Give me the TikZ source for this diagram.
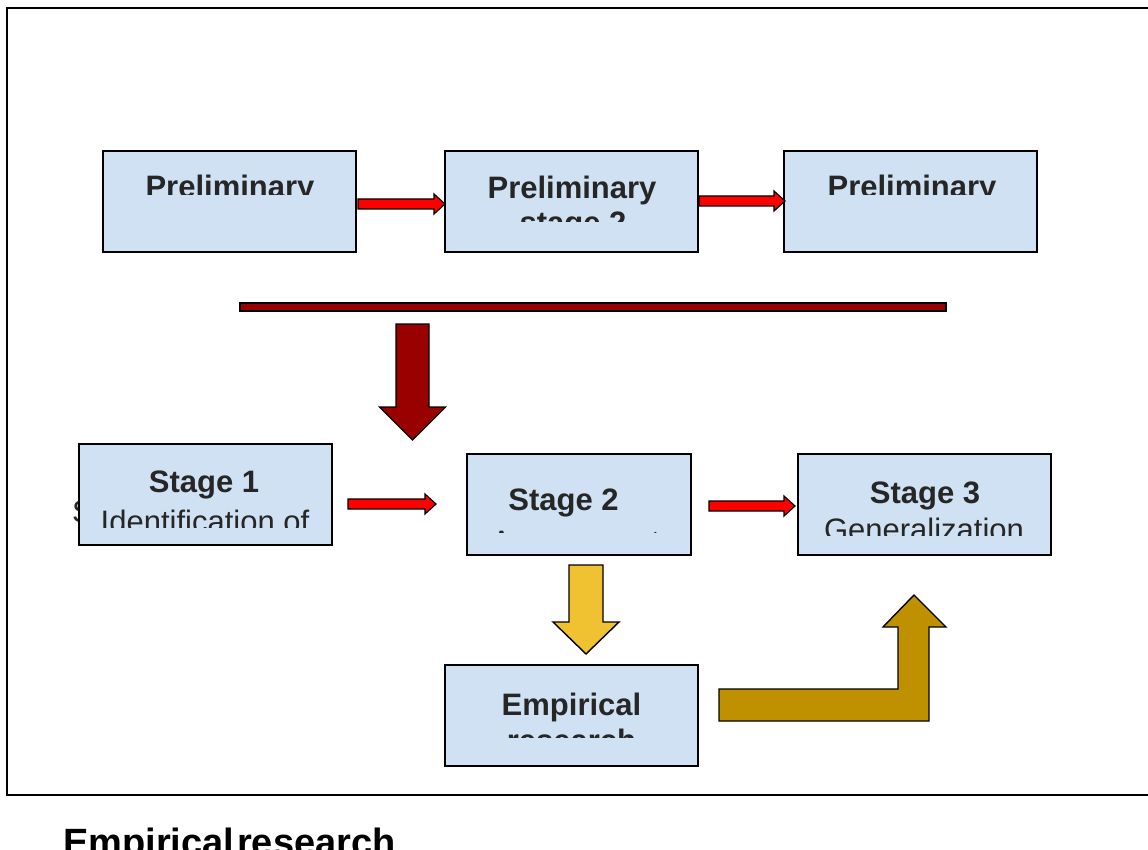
\documentclass[tikz,border=0pt]{standalone}
\usepackage{fontspec}
\setmainfont{Liberation Sans}
\definecolor{boxblue}{RGB}{207,225,242}
\definecolor{txt}{RGB}{38,38,38}
\definecolor{darkred}{RGB}{153,0,0}
\definecolor{ayellow}{RGB}{240,194,50}
\definecolor{agold}{RGB}{191,144,0}
\newcommand\blockarrowR[7]{% style, x1, x2, yc, shaft half, head half, head length
  \draw[#1] (#2,{#4-#5}) -- ({#3-#7},{#4-#5}) -- ({#3-#7},{#4-#6}) -- (#3,#4)
    -- ({#3-#7},{#4+#6}) -- ({#3-#7},{#4+#5}) -- (#2,{#4+#5}) -- cycle;}
\newcommand\blockarrowD[7]{% style, xc, y1, y2, shaft half, head half, head length
  \draw[#1] ({#2-#5},#3) -- ({#2+#5},#3) -- ({#2+#5},{#4-#7}) -- ({#2+#6},{#4-#7})
    -- (#2,#4) -- ({#2-#6},{#4-#7}) -- ({#2-#5},{#4-#7}) -- cycle;}
\begin{document}
\begin{tikzpicture}[x=1pt,y=-1pt,
  box/.style={draw=black, line width=1.4pt, fill=boxblue, inner sep=0pt,
    minimum width=253pt, minimum height=101pt},
  bt/.style={font=\fontsize{31}{35}\selectfont\bfseries, text=txt, anchor=base, inner sep=0pt},
  rt/.style={font=\fontsize{31}{35}\selectfont, text=txt, anchor=base, inner sep=0pt},
  redarrow/.style={fill=red, draw=black, line width=1.2pt, line join=miter},
  bigarrow/.style={draw=black, line width=1.4pt, line join=miter}]
\useasboundingbox (0,0) rectangle (1148,850);
\clip (0,0) rectangle (1148,850);
\fill[white] (0,0) rectangle (1148,850);
% frame
\draw[line width=1.4pt] (7,8) rectangle (1160,795);

% stray letter behind stage 1 box
\node[rt, anchor=base west] (stray) at (72,522) {S};

% boxes
\node[box] (p1) at (229.5,201.5) {};
\node[box] (p2) at (571.5,201.5) {};
\node[box] (p3) at (910.5,201.5) {};
\node[box] (s1) at (205.5,494.5) {};
\node[box, minimum width=224pt] (s2) at (579,504.5) {};
\node[box] (s3) at (924.5,504.5) {};
\node[box] (e) at (571.5,715.5) {};

% box texts (clipped as in the original)
\begin{scope}
  \clip (102,150) rectangle (357,195);
  \node[bt] (p1t) at (230,198) {Preliminary};
\end{scope}
\begin{scope}
  \clip (444,150) rectangle (699,222);
  \node[bt] (p2t) at (572,199) {Preliminary};
  \node[bt] (p2u) at (573,234) {stage 2};
\end{scope}
\begin{scope}
  \clip (783,150) rectangle (1038,195);
  \node[bt] (p3t) at (912,198) {Preliminary};
\end{scope}
\begin{scope}
  \clip (78,443) rectangle (333,527);
  \node[bt] (s1t) at (204,492) {Stage 1};
  \node[rt] (s1u) at (205,532) {Identification of};
\end{scope}
\begin{scope}
  \clip (466,453) rectangle (692,532);
  \node[bt] (s2t) at (563.5,510) {Stage 2};
  \node[rt, anchor=base west] (s2u) at (491,552) {Assessment};
\end{scope}
\begin{scope}
  \clip (797,453) rectangle (1052,535);
  \node[bt] (s3t) at (925,503) {Stage 3};
  \node[rt] (s3u) at (924,540) {Generalization};
\end{scope}
\begin{scope}
  \clip (444,664) rectangle (699,737);
  \node[bt] (et) at (571.5,715) {Empirical};
  \node[bt] (eu) at (571.5,751) {research};
\end{scope}

% small red arrows
\blockarrowR{redarrow}{358}{445}{204}{5}{10}{11}
\blockarrowR{redarrow}{699}{785}{201}{5}{10}{11}
\blockarrowR{redarrow}{348}{436}{504}{5}{10}{11}
\blockarrowR{redarrow}{709}{795}{506}{5}{10}{11}

% dark red bar and big arrow
\draw[fill=darkred, draw=black, line width=1.2pt] (240,303) rectangle (946,311);
\blockarrowD{bigarrow, fill=darkred}{412.5}{324}{440}{16.5}{33}{33}

% yellow down arrow
\blockarrowD{bigarrow, fill=ayellow}{586}{565}{654}{17}{33}{32}

% gold bent arrow
\draw[bigarrow, fill=agold] (719,689) -- (898,689) -- (898,627) -- (883,627) -- (914,595)
  -- (946,627) -- (929,627) -- (929,721) -- (719,721) -- cycle;

% caption (cut at the page bottom)
\node[font=\fontsize{38}{42}\selectfont\bfseries, text=black, anchor=base west, inner sep=0pt]
  (cap) at (63,855) {Empirical\hspace{-0.2em} research};
\end{tikzpicture}
\end{document}
